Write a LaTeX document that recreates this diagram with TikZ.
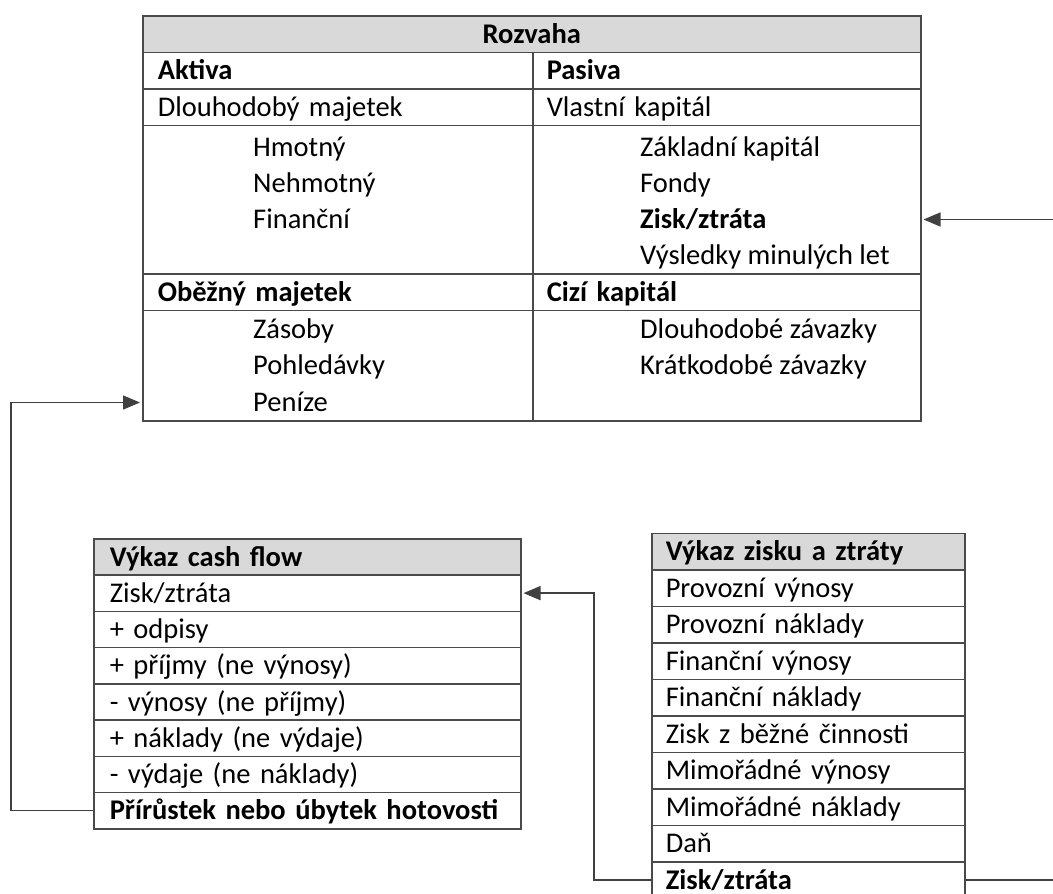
\documentclass[tikz,border=0pt]{standalone}
\usepackage{fontspec}
\setmainfont{Carlito}
\usetikzlibrary{arrows.meta}
\definecolor{linec}{HTML}{4A4A4A}
\definecolor{connc}{HTML}{404040}
\definecolor{headf}{HTML}{D9D9D9}
\newcommand{\tf}{\fontsize{28.5}{34}\selectfont}
\begin{document}
\begin{tikzpicture}[x=1pt,y=-1pt,
  font=\tf,
  cell/.style={draw=linec, line width=1.5pt, rectangle, anchor=north west,
    inner ysep=0pt, text height=22pt, text depth=3.5pt, align=left},
  head/.style={cell, fill=headf, font=\tf\bfseries},
  bold/.style={font=\tf\bfseries},
  block/.style={draw=linec, line width=1.5pt, rectangle, anchor=north west, inner sep=0pt},
  rzL/.style={cell, minimum width=390pt, minimum height=36.5pt, inner xsep=15pt, text width=360pt},
  rzR/.style={cell, minimum width=388pt, minimum height=36.5pt, inner xsep=14pt, text width=360pt},
  cfrow/.style={cell, minimum width=427pt, minimum height=36.25pt, inner xsep=16pt, text width=395pt},
  plrow/.style={cell, minimum width=313pt, minimum height=36.5pt, inner xsep=14pt, text width=285pt},
  ln/.style={anchor=base west, inner sep=0pt, text height=17pt, text depth=0pt},
  conn/.style={draw=connc, line width=1.5pt},
  arr/.style={conn, -{Triangle[length=17pt,width=14pt]}, shorten >=2pt}
]
\useasboundingbox (0,0) rectangle (1053,894);
\clip (0,0) rectangle (1053,894);

% ---------- Rozvaha ----------
\node[head, minimum width=778pt, minimum height=36.5pt, inner xsep=0pt, text width=778pt, align=center] (rzH) at (142,15) {Rozvaha};
\node[rzL, bold] (rzA) at (142,51.5) {Aktiva};
\node[rzR, bold] (rzP) at (532,51.5) {Pasiva};
\node[rzL] (rzDM) at (142,88) {Dlouhodobý majetek};
\node[rzR] (rzVK) at (532,88) {Vlastní kapitál};
\node[block, minimum width=390pt, minimum height=148.5pt] (rzB1L) at (142,124.5) {};
\node[block, minimum width=388pt, minimum height=148.5pt] (rzB1R) at (532,124.5) {};
\node[rzL, bold] (rzOM) at (142,273) {Oběžný majetek};
\node[rzR, bold] (rzCK) at (532,273) {Cizí kapitál};
\node[block, minimum width=390pt, minimum height=110.5pt] (rzB2L) at (142,309.5) {};
\node[block, minimum width=388pt, minimum height=110.5pt] (rzB2R) at (532,309.5) {};

\node[ln] (hm) at (253,156) {Hmotný};
\node[ln] (nh) at (253,192) {Nehmotný};
\node[ln] (fi) at (253,228) {Finanční};
\node[ln] (zk) at (640,156) {Základní kapitál};
\node[ln] (fo) at (640,192) {Fondy};
\node[ln, bold] (zt) at (640,228) {Zisk/ztráta};
\node[ln] (vm) at (640,264) {Výsledky minulých let};
\node[ln] (za) at (253,338) {Zásoby};
\node[ln] (po) at (253,374.5) {Pohledávky};
\node[ln] (pe) at (253,411) {Peníze};
\node[ln] (dz) at (640,338) {Dlouhodobé závazky};
\node[ln] (kz) at (640,374.5) {Krátkodobé závazky};

% ---------- Výkaz cash flow ----------
\node[cfrow, fill=headf, bold] (cf0) at (93,538) {Výkaz cash flow};
\node[cfrow] (cf1) at (93,574.25) {Zisk/ztráta};
\node[cfrow] (cf2) at (93,610.5) {+ odpisy};
\node[cfrow] (cf3) at (93,646.75) {+ příjmy (ne výnosy)};
\node[cfrow] (cf4) at (93,683) {- výnosy (ne příjmy)};
\node[cfrow] (cf5) at (93,719.25) {+ náklady (ne výdaje)};
\node[cfrow] (cf6) at (93,755.5) {- výdaje (ne náklady)};
\node[cfrow, bold] (cf7) at (93,791.75) {Přírůstek nebo úbytek hotovosti};

% ---------- Výkaz zisku a ztráty ----------
\node[plrow, fill=headf, bold] (pl0) at (651,532.5) {Výkaz zisku a ztráty};
\node[plrow] (pl1) at (651,569) {Provozní výnosy};
\node[plrow] (pl2) at (651,605.5) {Provozní náklady};
\node[plrow] (pl3) at (651,642) {Finanční výnosy};
\node[plrow] (pl4) at (651,678.5) {Finanční náklady};
\node[plrow] (pl5) at (651,715) {Zisk z běžné činnosti};
\node[plrow] (pl6) at (651,751.5) {Mimořádné výnosy};
\node[plrow] (pl7) at (651,788) {Mimořádné náklady};
\node[plrow] (pl8) at (651,824.5) {Daň};
\node[plrow, bold] (pl9) at (651,861) {Zisk/ztráta};

% ---------- connectors ----------
\coordinate (c1) at (594,0);
\coordinate (c2) at (1090,0);
\coordinate (c3) at (11,0);
\draw[arr] (pl9.west) -| (c1 |- cf1.east) -- (cf1.east);
\draw[arr] (pl9.east) -| (c2 |- zt.center) -- (rzB1R.east |- zt.center);
\draw[arr] (cf7.west) -| (c3 |- pe.center) -- (rzB2L.west |- pe.center);
\end{tikzpicture}
\end{document}
